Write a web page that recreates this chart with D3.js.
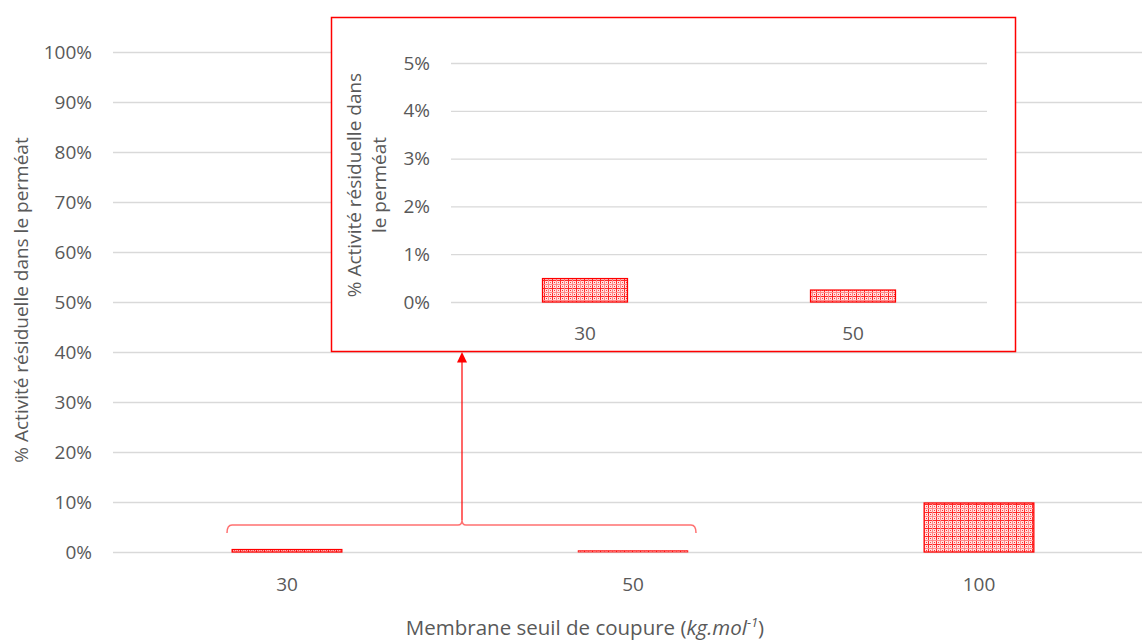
<!DOCTYPE html>
<html>
<head>
<meta charset="utf-8">
<script src="https://cdn.jsdelivr.net/npm/d3@7"></script>
<style>
  html, body { margin: 0; padding: 0; background: #fff; }
  svg { display: block; }
  text { font-family: "Open Sans", sans-serif; fill: #595959; }
</style>
</head>
<body>
<svg id="chart" width="1142" height="641"></svg>
<script>
// ---- data ----
const categories = ["30", "50", "100"];
const values = [0.49, 0.25, 9.8];          // % residual activity
const yTicks = [0, 10, 20, 30, 40, 50, 60, 70, 80, 90, 100];

const insetCategories = ["30", "50"];
const insetValues = [0.49, 0.25];
const insetTicks = [0, 1, 2, 3, 4, 5];

const yTitle = "% Activité résiduelle dans le perméat";
const insetTitleLines = ["% Activité résiduelle dans", "le perméat"];

const svg = d3.select("#chart");
const W = 1142, H = 641;
const red = "#ff0000";
const grid = "#d9d9d9";
const FS = 19;

// ---- pattern ----
const defs = svg.append("defs");
const pat = defs.append("pattern").attr("id", "hatch")
  .attr("patternUnits", "userSpaceOnUse").attr("width", 8).attr("height", 8);
pat.append("rect").attr("width", 8).attr("height", 8).attr("fill", "#ffe2e2");
pat.append("rect").attr("x", 0).attr("y", 0).attr("width", 8).attr("height", 1).attr("fill", "#ff2a2a");
pat.append("rect").attr("x", 0).attr("y", 0).attr("width", 1).attr("height", 8).attr("fill", "#ff2a2a");
pat.append("rect").attr("x", 0).attr("y", 4).attr("width", 8).attr("height", 1).attr("fill", "#ff8a8a");
pat.append("rect").attr("x", 4).attr("y", 0).attr("width", 1).attr("height", 8).attr("fill", "#ff8a8a");
pat.append("rect").attr("x", 2).attr("y", 2).attr("width", 1).attr("height", 1).attr("fill", "#ff3030");
pat.append("rect").attr("x", 6).attr("y", 6).attr("width", 1).attr("height", 1).attr("fill", "#ff3030");
pat.append("rect").attr("x", 2).attr("y", 6).attr("width", 1).attr("height", 1).attr("fill", "#ff5050");
pat.append("rect").attr("x", 6).attr("y", 2).attr("width", 1).attr("height", 1).attr("fill", "#ff5050");

// ---- main chart ----
const x = d3.scaleBand().domain(categories).range([114, 1152]).padding(0);
const y = d3.scaleLinear().domain([0, 100]).range([552, 52]);
const barFrac = 0.317;

svg.append("g").selectAll("line").data(yTicks).join("line")
  .attr("x1", 113).attr("x2", W)
  .attr("y1", d => y(d) + 0.5).attr("y2", d => y(d) + 0.5)
  .attr("stroke", grid).attr("stroke-width", 1.3);

svg.append("g").selectAll("text").data(yTicks).join("text")
  .attr("x", 92).attr("y", d => y(d)).attr("dy", "0.35em")
  .attr("text-anchor", "end").attr("font-size", FS)
  .text(d => d + "%");

const bw = x.bandwidth() * barFrac;
svg.append("g").selectAll("rect").data(categories).join("rect")
  .attr("x", (d) => x(d) + x.bandwidth() / 2 - bw / 2)
  .attr("width", bw)
  .attr("y", (d, i) => y(values[i]))
  .attr("height", (d, i) => y(0) - y(values[i]))
  .attr("fill", "url(#hatch)").attr("stroke", red)
  .attr("stroke-width", (d, i) => values[i] < 0.4 ? 0.8 : 1.3);

svg.append("g").selectAll("text").data(categories).join("text")
  .attr("x", d => x(d) + x.bandwidth() / 2).attr("y", 584).attr("dy", "0.35em")
  .attr("text-anchor", "middle").attr("font-size", FS).text(d => d);

svg.append("text")
  .attr("transform", "translate(28,300) rotate(-90)")
  .attr("text-anchor", "middle").attr("font-size", FS).text(yTitle);

const xt = svg.append("text").attr("x", 585).attr("y", 635)
  .attr("text-anchor", "middle").attr("font-size", 20.5);
xt.append("tspan").text("Membrane seuil de coupure (");
xt.append("tspan").attr("font-style", "italic").text("kg.mol");
xt.append("tspan").attr("font-style", "italic").attr("font-size", 13).attr("dy", -8).text("-1");
xt.append("tspan").attr("dy", 8).text(")");

// ---- inset ----
const ib = { x0: 331.5, y0: 17.5, x1: 1015.5, y1: 351.5 };
svg.append("rect").attr("x", ib.x0).attr("y", ib.y0)
  .attr("width", ib.x1 - ib.x0).attr("height", ib.y1 - ib.y0)
  .attr("fill", "#fff").attr("stroke", red).attr("stroke-width", 1.5);

const ix = d3.scaleBand().domain(insetCategories).range([451, 987]).padding(0);
const iy = d3.scaleLinear().domain([0, 5]).range([302, 63]);

svg.append("g").selectAll("line").data(insetTicks).join("line")
  .attr("x1", 451).attr("x2", 987)
  .attr("y1", d => iy(d) + 0.5).attr("y2", d => iy(d) + 0.5)
  .attr("stroke", grid).attr("stroke-width", 1.3);

svg.append("g").selectAll("text").data(insetTicks).join("text")
  .attr("x", 430).attr("y", d => iy(d)).attr("dy", "0.35em")
  .attr("text-anchor", "end").attr("font-size", FS).text(d => d + "%");

const ibw = ix.bandwidth() * barFrac;
svg.append("g").selectAll("rect").data(insetCategories).join("rect")
  .attr("x", d => ix(d) + ix.bandwidth() / 2 - ibw / 2)
  .attr("width", ibw)
  .attr("y", (d, i) => iy(insetValues[i]))
  .attr("height", (d, i) => iy(0) - iy(insetValues[i]))
  .attr("fill", "url(#hatch)").attr("stroke", red).attr("stroke-width", 1.3);

svg.append("g").selectAll("text").data(insetCategories).join("text")
  .attr("x", d => ix(d) + ix.bandwidth() / 2).attr("y", 333).attr("dy", "0.35em")
  .attr("text-anchor", "middle").attr("font-size", FS).text(d => d);

const it = svg.append("text")
  .attr("transform", "translate(361,185) rotate(-90)")
  .attr("text-anchor", "middle").attr("font-size", FS);
insetTitleLines.forEach((l, i) => {
  it.append("tspan").attr("x", 0).attr("dy", i === 0 ? 0 : 25).text(l);
});

// ---- bracket + arrow ----
const bx0 = x("30") + x.bandwidth() / 2 - 60;
const bx1 = x("50") + x.bandwidth() / 2 + 63;
const bmid = 462, by = 525;
svg.append("path")
  .attr("d", `M${bx0},${by + 8} Q${bx0},${by} ${bx0 + 5},${by} L${bmid - 4},${by} Q${bmid},${by} ${bmid},${by - 5} Q${bmid},${by} ${bmid + 4},${by} L${bx1 - 5},${by} Q${bx1},${by} ${bx1},${by + 8}`)
  .attr("fill", "none").attr("stroke", "#ff7070").attr("stroke-width", 1.5);
svg.append("line")
  .attr("x1", bmid).attr("y1", by - 5).attr("x2", bmid).attr("y2", 360)
  .attr("stroke", red).attr("stroke-width", 1.2);
svg.append("path")
  .attr("d", `M${bmid},${ib.y1 + 0.5} L${bmid - 5},${ib.y1 + 11} L${bmid + 5},${ib.y1 + 11} Z`)
  .attr("fill", red);
</script>
</body>
</html>
